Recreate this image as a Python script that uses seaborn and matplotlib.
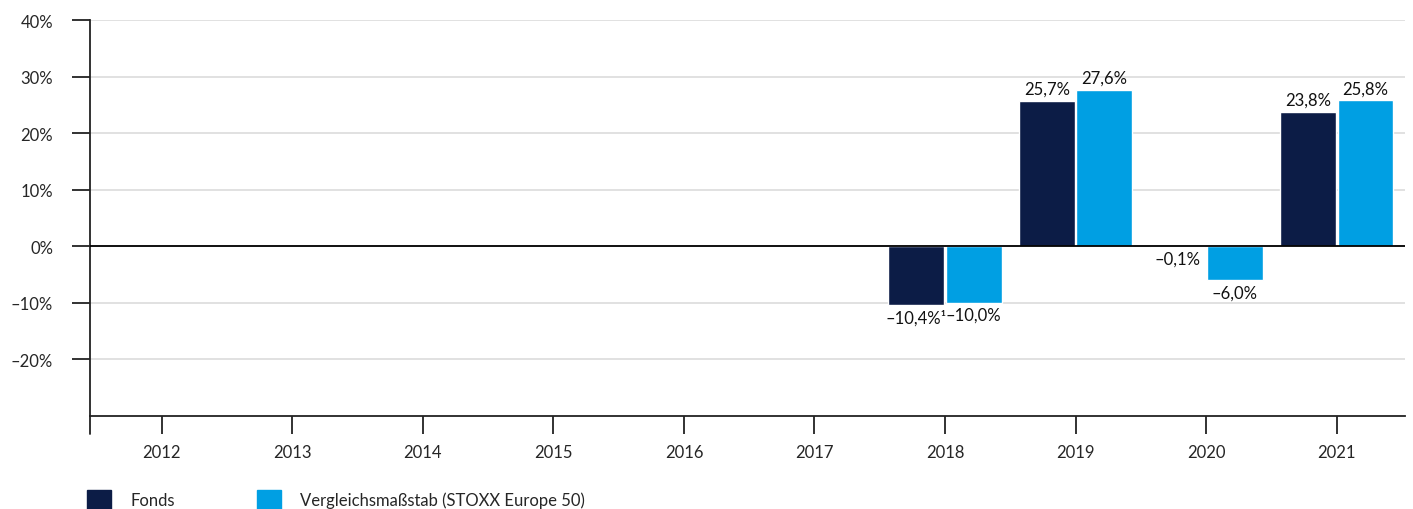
import pandas as pd
import matplotlib
matplotlib.use("Agg")
import matplotlib.pyplot as plt
import matplotlib.patches as mpatches
import seaborn as sns

# Daten
years = ["2012", "2013", "2014", "2015", "2016", "2017", "2018", "2019", "2020", "2021"]
fonds = [None, None, None, None, None, None, -10.4, 25.7, -0.1, 23.8]
benchmark = [None, None, None, None, None, None, -10.0, 27.6, -6.0, 25.8]
series_names = ["Fonds", "Vergleichsmaßstab (STOXX Europe 50)"]
colors = ["#0c1c46", "#009fe3"]
yticks = [-20, -10, 0, 10, 20, 30, 40]

df = pd.DataFrame({"Jahr": years, series_names[0]: fonds, series_names[1]: benchmark})
df = df.melt(id_vars="Jahr", var_name="Serie", value_name="Wert").dropna()

sns.set_style("white")
plt.rcParams["font.family"] = ["Lato", "DejaVu Sans"]

fig = plt.figure(figsize=(14.13, 5.1), dpi=100)
ax = fig.add_axes([0.0637, 0.1824, 0.9303, 0.7764])

sns.barplot(data=df, x="Jahr", y="Wert", hue="Serie", order=years,
            hue_order=series_names, palette=colors, width=0.88, gap=0.03,
            saturation=1, ax=ax, legend=False)

ax.set_xlim(-0.55, 9.52)
ax.set_ylim(-30, 40)
ax.set_yticks(yticks)
ax.set_yticklabels([f"{v}%".replace("-", "–") for v in yticks])
ax.set_xlabel("")
ax.set_ylabel("")

ax.grid(axis="y", color="#dcdcdc", linewidth=1.2)
ax.set_axisbelow(True)
ax.axhline(0, color="black", linewidth=1.3, zorder=3)

for side in ["top", "right"]:
    ax.spines[side].set_visible(False)
for side in ["left", "bottom"]:
    ax.spines[side].set_color("#222222")
    ax.spines[side].set_linewidth(1.3)
# linke Achse etwas unter die x-Achse verlängern
ax.plot([0, 0], [0, -0.045], transform=ax.transAxes, color="#222222",
        linewidth=1.3, clip_on=False)

ax.tick_params(axis="y", length=13, width=1.3, color="#222222", pad=13.5,
               labelsize=12, left=True)
ax.tick_params(axis="x", length=13, width=1.3, color="#222222", pad=7,
               labelsize=12, bottom=True)

# Wertebeschriftungen
for i, cont in enumerate(ax.containers):
    labels = []
    for bar in cont:
        h = bar.get_height()
        txt = f"{h:.1f}%".replace(".", ",").replace("-", "–")
        if i == 0 and abs(h + 10.4) < 1e-6:
            txt += "¹"
        labels.append(txt)
    ax.bar_label(cont, labels=labels, padding=3, fontsize=12, color="#111111")

handles = [mpatches.Patch(color=c, label=n) for c, n in zip(colors, series_names)]
fig.legend(handles=handles, loc="lower left", bbox_to_anchor=(0.051, -0.03),
           ncol=2, frameon=False, fontsize=12, handlelength=1.45,
           handleheight=1.45, handletextpad=1.15, columnspacing=4.9)

fig.savefig("out.png", dpi=100)
